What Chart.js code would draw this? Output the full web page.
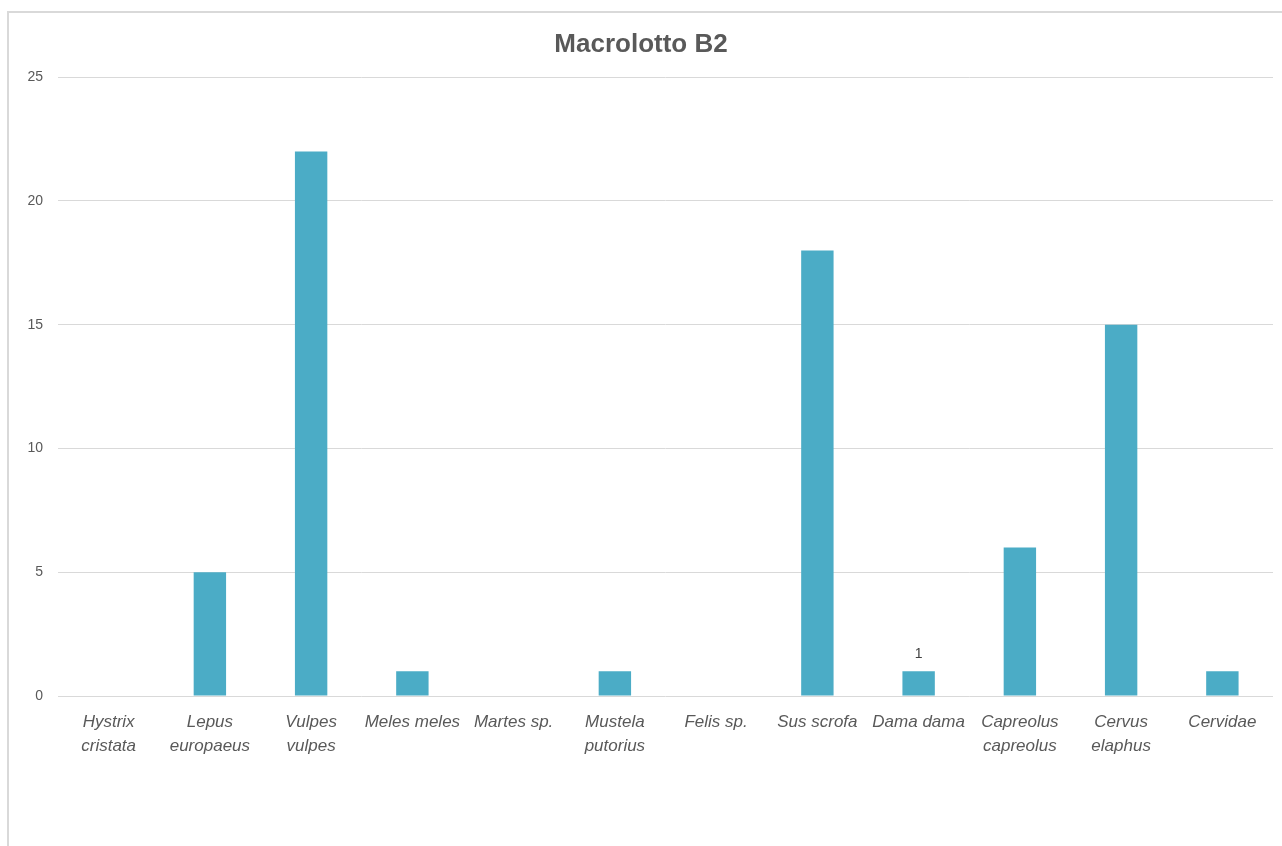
<!DOCTYPE html>
<html lang="it">
<head>
<meta charset="UTF-8">
<title>Macrolotto B2</title>
<script src="https://cdn.jsdelivr.net/npm/chart.js@4/dist/chart.umd.min.js"></script>
<style>
    body { margin: 0; background: #fff; overflow: hidden; }
    #moldura {
        position: absolute;
        left: 7px;
        top: 11px;
        width: 1273px;
        height: 833px;
        border-left: 2px solid #d9d9d9;
        border-top: 2px solid #d9d9d9;
    }
</style>
</head>
<body>
<div id="moldura">
    <canvas id="graficoMacrolotto"></canvas>
</div>
<script>
// 1. DATI (numero di resti per taxon)
const specie = [
    ['Hystrix', 'cristata'],
    ['Lepus', 'europaeus'],
    ['Vulpes', 'vulpes'],
    'Meles meles',
    'Martes sp.',
    ['Mustela', 'putorius'],
    'Felis sp.',
    'Sus scrofa',
    'Dama dama',
    ['Capreolus', 'capreolus'],
    ['Cervus', 'elaphus'],
    'Cervidae'
];
const resti = [0, 5, 22, 1, 0, 1, 0, 18, 1, 6, 15, 1];
const tickAsseY = [0, 5, 10, 15, 20, 25];
// etichetta mostrata solo sopra la barra di Dama dama
const etichetteVisibili = [false, false, false, false, false, false, false, false, true, false, false, false];

const grigioTesto = '#595959';
const corBarra = '#4bacc6';

// Scrive il valore sopra le barre marcate
const etichettaValore = {
    id: 'etichettaValore',
    afterDatasetsDraw(chart) {
        const ctx = chart.ctx;
        const meta = chart.getDatasetMeta(0);
        ctx.save();
        ctx.font = '14px "Liberation Sans", Arial, sans-serif';
        ctx.fillStyle = '#404040';
        ctx.textAlign = 'center';
        ctx.textBaseline = 'bottom';
        meta.data.forEach((barra, i) => {
            if (!etichetteVisibili[i]) return;
            ctx.fillText(String(resti[i]), barra.x, barra.y - 10);
        });
        ctx.restore();
    }
};

// 2. GRAFICO
const ctx = document.getElementById('graficoMacrolotto').getContext('2d');

new Chart(ctx, {
    type: 'bar',
    data: {
        labels: specie,
        datasets: [{
            data: resti,
            backgroundColor: corBarra,
            borderWidth: 0,
            barPercentage: 0.32,
            categoryPercentage: 1
        }]
    },
    options: {
        responsive: true,
        maintainAspectRatio: false,
        animation: false,
        layout: { padding: { left: 0, right: 9, top: 0, bottom: 0 } },
        plugins: {
            legend: { display: false },
            tooltip: { enabled: false },
            title: {
                display: true,
                text: 'Macrolotto B2',
                color: grigioTesto,
                font: { family: '"Liberation Sans", Arial, sans-serif', size: 26, weight: 'bold', lineHeight: 1.2 },
                padding: { top: 16, bottom: 17 }
            }
        },
        scales: {
            x: {
                grid: { display: false },
                border: { display: false },
                ticks: {
                    color: grigioTesto,
                    maxRotation: 0,
                    autoSkip: false,
                    padding: 6,
                    font: { family: '"Liberation Sans", Arial, sans-serif', size: 17, style: 'italic', lineHeight: 1.42 }
                },
                afterFit(scale) { scale.height = 150; }
            },
            y: {
                min: 0,
                max: 25,
                afterBuildTicks(scale) {
                    scale.ticks = tickAsseY.map(v => ({ value: v }));
                },
                grid: { color: '#d9d9d9', lineWidth: 1, drawTicks: false },
                border: { display: false },
                ticks: {
                    color: grigioTesto,
                    padding: 15,
                    font: { family: '"Liberation Sans", Arial, sans-serif', size: 14 }
                },
                afterFit(scale) { scale.width = 49; }
            }
        }
    },
    plugins: [etichettaValore]
});
</script>
</body>
</html>
